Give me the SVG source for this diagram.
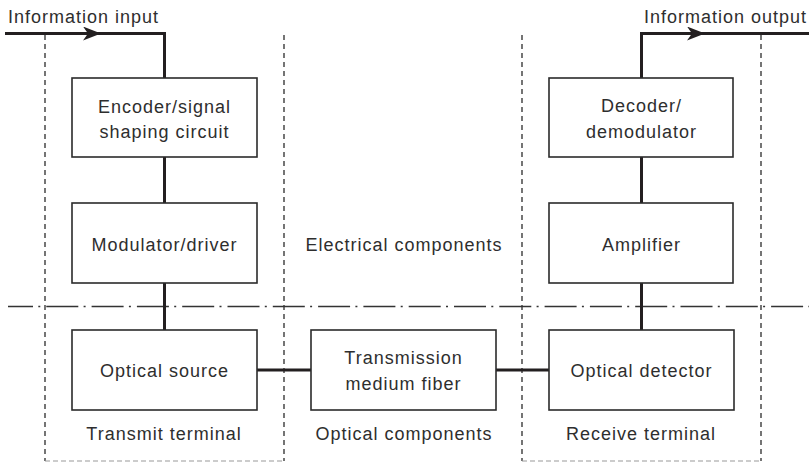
<svg xmlns="http://www.w3.org/2000/svg" width="809" height="462" viewBox="0 0 809 462">
<defs>
<style>
.box{fill:#fff;stroke:#2b2b2b;stroke-width:1.6}
.t{font-family:"Liberation Sans",Arial,sans-serif;font-size:18px;letter-spacing:1px;fill:#2e2e2e;text-anchor:middle}
.ts{text-anchor:start}
.conn{fill:none;stroke:#231f20;stroke-width:3}
.dash{fill:none;stroke:#2b2b2b;stroke-width:1.3;stroke-dasharray:5 4}
.dashb{fill:none;stroke:#999;stroke-width:1.2;stroke-dasharray:5 3}
.dd{fill:none;stroke:#333;stroke-width:1.3;stroke-dasharray:32 5.3 2 6;stroke-dashoffset:7}
</style>
<marker id="arr" viewBox="0 0 18 14" refX="18" refY="7" markerWidth="18" markerHeight="14" markerUnits="userSpaceOnUse" orient="auto">
<path d="M0,0 L18,7 L0,14 L5,7 Z" fill="#231f20"/>
</marker>
</defs>
<rect width="809" height="462" fill="#fff"/>
<g id="regions">
<line class="dash" x1="45" y1="35" x2="45" y2="461"/>
<line class="dash" x1="284" y1="35" x2="284" y2="461"/>
<line class="dash" x1="522" y1="35" x2="522" y2="461"/>
<line class="dash" x1="761" y1="35" x2="761" y2="461"/>
<line class="dashb" x1="45" y1="461" x2="284" y2="461"/>
<line class="dashb" x1="522" y1="461" x2="761" y2="461"/>
<line class="dd" x1="8" y1="306.5" x2="809" y2="306.5"/>
<text class="t" x="404" y="251">Electrical components</text>
<text class="t" x="404" y="440">Optical components</text>
<text class="t" x="164" y="440">Transmit terminal</text>
<text class="t" x="641" y="440">Receive terminal</text>
</g>
<g id="connectors">
<path class="conn" d="M5,33.5 H164.5 V78"/>
<line class="conn" x1="5" y1="33.5" x2="101" y2="33.5" marker-end="url(#arr)"/>
<line class="conn" x1="164.5" y1="157" x2="164.5" y2="203"/>
<line class="conn" x1="164.5" y1="283" x2="164.5" y2="330"/>
<line class="conn" x1="257" y1="370" x2="311" y2="370"/>
<line class="conn" x1="496" y1="370" x2="549" y2="370"/>
<line class="conn" x1="641.5" y1="330" x2="641.5" y2="283"/>
<line class="conn" x1="641.5" y1="203" x2="641.5" y2="157"/>
<path class="conn" d="M641.5,78 V33.5 H809"/>
<line class="conn" x1="641.5" y1="33.5" x2="705" y2="33.5" marker-end="url(#arr)"/>
<text class="t ts" x="8" y="23">Information input</text>
<text class="t ts" x="644" y="23">Information output</text>
</g>
<g id="encoder">
<rect class="box" x="72" y="78" width="185" height="79"/>
<text class="t" x="164.5" y="113">Encoder/signal</text>
<text class="t" x="164.5" y="138">shaping circuit</text>
</g>
<g id="modulator">
<rect class="box" x="72" y="203" width="185" height="80"/>
<text class="t" x="164.5" y="251">Modulator/driver</text>
</g>
<g id="source">
<rect class="box" x="72" y="330" width="185" height="80"/>
<text class="t" x="164.5" y="377">Optical source</text>
</g>
<g id="fiber">
<rect class="box" x="311" y="330" width="185" height="80"/>
<text class="t" x="403.5" y="364">Transmission</text>
<text class="t" x="403.5" y="390">medium fiber</text>
</g>
<g id="detector">
<rect class="box" x="549" y="330" width="185" height="80"/>
<text class="t" x="641.5" y="377">Optical detector</text>
</g>
<g id="amplifier">
<rect class="box" x="549" y="203" width="184" height="80"/>
<text class="t" x="641.5" y="251">Amplifier</text>
</g>
<g id="decoder">
<rect class="box" x="549" y="78" width="184" height="79"/>
<text class="t" x="641.5" y="112">Decoder/</text>
<text class="t" x="641.5" y="138">demodulator</text>
</g>
</svg>
